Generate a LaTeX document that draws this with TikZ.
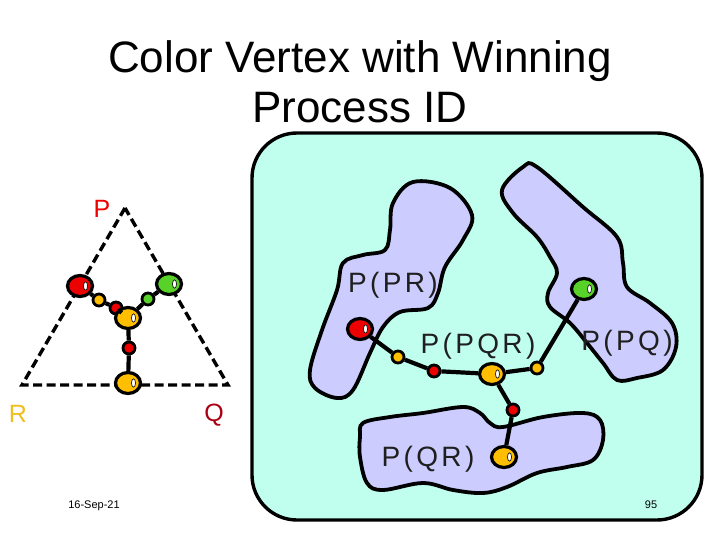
\documentclass[tikz,border=0pt]{standalone}
\usepackage{fontspec}
\setmainfont{Liberation Sans}
\usetikzlibrary{shapes.geometric}

\definecolor{panelcol}{RGB}{192,255,238}
\definecolor{blobcol}{RGB}{204,204,255}
\definecolor{vred}{RGB}{236,0,0}
\definecolor{vyel}{RGB}{255,190,0}
\definecolor{vgrn}{RGB}{88,210,40}
\definecolor{qcol}{RGB}{170,0,20}
\definecolor{rcol}{RGB}{240,190,30}

\begin{document}
\begin{tikzpicture}[x=1pt,y=-1pt,
  bigv/.style={ellipse,draw,line width=3.2pt,fill=#1,minimum width=25pt,minimum height=21pt,inner sep=0pt,
    path picture={\draw[fill=white,line width=0.6pt] ([xshift=5.5pt]path picture bounding box.center) ellipse (2 and 4.2);}},
  smallv/.style={circle,draw,line width=2.8pt,fill=#1,minimum size=12pt,inner sep=0pt},
  link/.style={line width=4.2pt},
  tri/.style={line width=3.4pt,dash pattern=on 9pt off 4.5pt},
  blob/.style={draw,line width=3.8pt,fill=blobcol},
  setname/.style={font=\fontsize{28}{30}\selectfont\addfontfeature{LetterSpace=12},anchor=base,text=black!88},
  corner/.style={font=\fontsize{25}{27}\selectfont,anchor=base},
  foot/.style={font=\fontsize{11}{12}\selectfont,anchor=base}]
\useasboundingbox (0,0) rectangle (720,540);

% title
\node[anchor=base,font=\fontsize{44}{50}\selectfont] (title1) at (360,73) {Color Vertex with Winning};
\node[anchor=base,font=\fontsize{44}{50}\selectfont] (title2) at (360,123) {Process ID};

% left: subdivided triangle
\coordinate (cP) at (125,208);
\coordinate (cR) at (22,385);
\coordinate (cQ) at (228,385);
\draw[tri] (cP) -- (cR) -- (cQ) -- cycle;
\node[corner,text=vred] (lP) at (102,218) {P};
\node[corner,text=rcol] (lR) at (18,422) {R};
\node[corner,text=qcol] (lQ) at (214,421) {Q};

\node[bigv=vred] (tR) at (80,286) {};
\node[smallv=vyel] (ty1) at (99,300) {};
\node[smallv=vred] (tr1) at (116,308) {};
\node[bigv=vyel] (tY) at (128,318) {};
\node[smallv=vgrn] (tg1) at (148,299) {};
\node[bigv=vgrn] (tG) at (169,284) {};
\node[smallv=vred] (tr2) at (129,348) {};
\node[bigv=vyel] (tYb) at (128,383) {};
\draw[link] (tR) -- (ty1) -- (tr1) -- (tY) -- (tg1) -- (tG);
\draw[link] (tY) -- (tr2) -- (tYb);

% right: the cover
\draw[line width=3.4pt,fill=panelcol,rounded corners=45pt] (252,133) rectangle (702,520);

\draw[blob] plot[smooth cycle,tension=0.6] coordinates {
  (413,182) (450,188) (472,215) (463,240) (445,267) (438,293) (428,308) (400,312)
  (383,327) (370,353) (353,390) (337,398) (315,388) (310,370) (322,330) (337,290)
  (343,263) (363,255) (385,250) (390,230) (393,203)};
\draw[blob] plot[smooth cycle,tension=0.6] coordinates {
  (523,167) (537,167) (583,207) (617,237) (623,263) (627,287) (650,303) (672,323)
  (676,347) (663,370) (637,378) (617,380) (603,363) (587,343) (570,323) (550,307)
  (548,293) (557,273) (550,257) (537,237) (513,213) (502,190)};
\draw[blob] plot[smooth cycle,tension=0.6] coordinates {
  (363,423) (390,417) (423,413) (463,407) (480,413) (490,423) (503,427) (543,417)
  (583,413) (600,420) (603,440) (593,460) (567,467) (537,473) (507,487) (483,493)
  (453,490) (423,483) (383,490) (367,483) (360,457) (360,437)};

\node[setname] (nPR) at (393,292) {P(PR)};
\node[setname] (nPQR) at (478,353) {P(PQR)};
\node[setname] (nPQ) at (627,350) {P(PQ)};
\node[setname] (nQR) at (428,466) {P(QR)};

\node[bigv=vred] (aR) at (360,329) {};
\node[smallv=vyel] (ay1) at (398,357) {};
\node[smallv=vred] (ar1) at (434,371) {};
\node[bigv=vyel] (aY) at (492,374) {};
\node[smallv=vyel] (ay2) at (537,368) {};
\node[bigv=vgrn] (aG) at (584,289) {};
\node[smallv=vred] (ar2) at (513,410) {};
\node[bigv=vyel] (aYb) at (504,457) {};
\draw[link] (aR) -- (ay1) -- (ar1) -- (aY) -- (ay2) -- (aG);
\draw[link] (aY) -- (ar2) -- (aYb);

% footer
\node[foot] (date) at (94,508) {16-Sep-21};
\node[foot] (page) at (651,508) {95};
\end{tikzpicture}
\end{document}
